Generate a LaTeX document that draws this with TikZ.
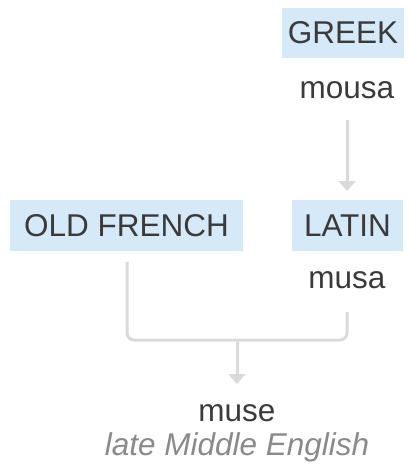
\documentclass[tikz,border=0pt]{standalone}
\usepackage{fontspec}
\setmainfont{Liberation Sans}
\usetikzlibrary{arrows.meta}
\definecolor{boxblue}{HTML}{D6E9F8}
\definecolor{txt}{HTML}{3A3A3A}
\definecolor{conn}{HTML}{DADADA}
\definecolor{sub}{HTML}{8A8A8A}
\tikzset{
  lang/.style={fill=boxblue, text=txt, font=\fontsize{31.5}{36}\selectfont, inner sep=0pt, anchor=center},
  word/.style={text=txt, font=\fontsize{31.5}{36}\selectfont, inner sep=0pt, anchor=center},
  note/.style={text=sub, font=\fontsize{31.5}{36}\selectfont\itshape, inner sep=0pt, anchor=center},
  link/.style={draw=conn, line width=3pt},
  tip/.style={-{Triangle[width=17pt,length=10pt]}}
}
\begin{document}
\begin{tikzpicture}[x=1pt,y=-1pt]
\useasboundingbox (0,0) rectangle (408,471);
\node[lang, minimum width=122pt, minimum height=50pt] (greek) at (343,33) {GREEK};
\node[word] (mousa) at (347,90) {mousa};
\node[lang, minimum width=111pt, minimum height=51pt] (latin) at (347.5,225.5) {LATIN};
\node[word] (musa) at (347,280) {musa};
\node[lang, minimum width=233pt, minimum height=51pt] (oldfr) at (126.5,225.5) {OLD FRENCH};
\node[word] (muse) at (237,413) {muse};
\node[note] (lme) at (237,447) {late Middle English};
\coordinate (grdown) at (347,120);
\coordinate (latop) at (347,191);
\coordinate (join) at (237,340);
\coordinate (ofdown) at (127,262);
\coordinate (ladown) at (347,312);
\coordinate (musetop) at (237,384);
\draw[link, tip] (grdown) -- (latop);
\draw[link, rounded corners=7pt] (ofdown) |- (join) -| (ladown);
\draw[link, tip] (join) -- (musetop);
\end{tikzpicture}
\end{document}
